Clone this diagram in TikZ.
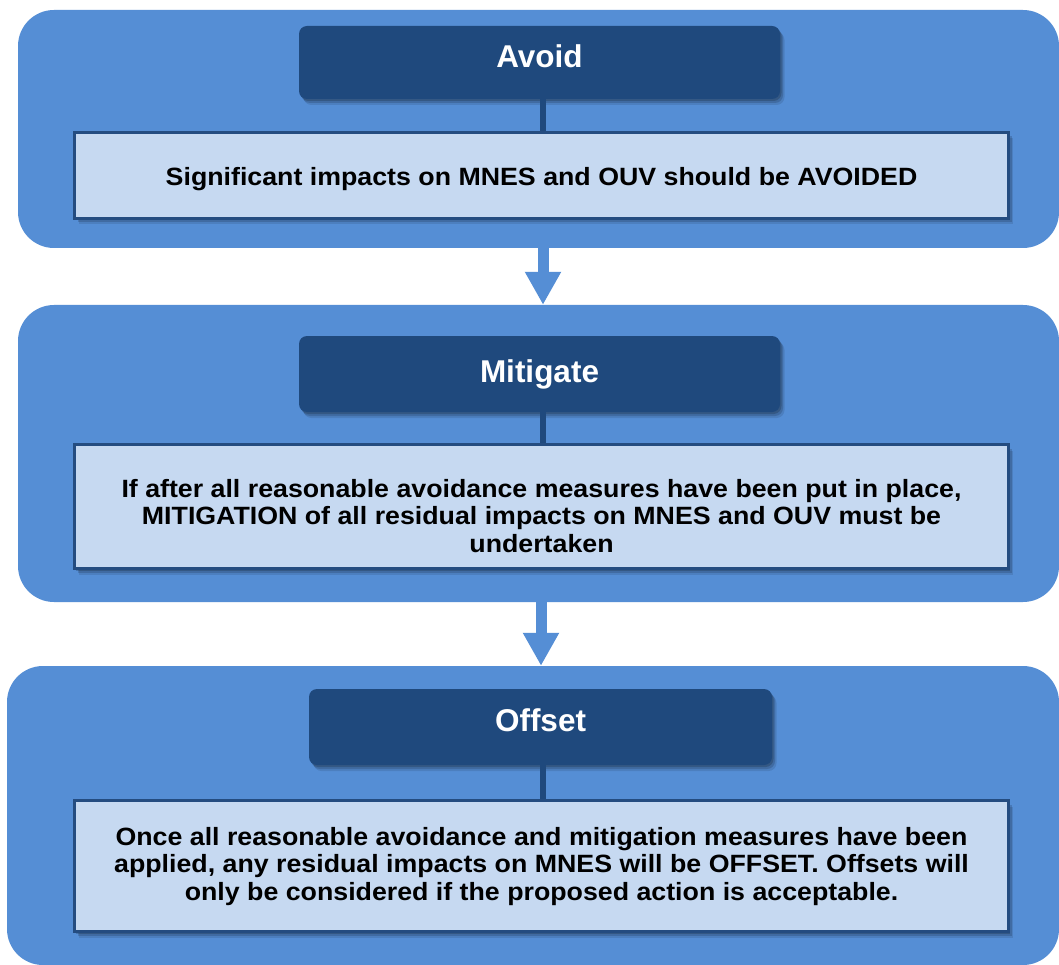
\documentclass[tikz,border=0pt]{standalone}
\usepackage{fontspec}
\setmainfont{Liberation Sans}
\newfontfamily\bodyfont{Liberation Sans}[FakeStretch=1.07]
\usetikzlibrary{shadows,arrows.meta}
\definecolor{panelblue}{RGB}{85,142,213}
\definecolor{headblue}{RGB}{31,73,125}
\definecolor{boxfill}{RGB}{198,217,241}
\definecolor{boxline}{RGB}{36,76,128}
\newcommand{\lowtext}[2]{\raisebox{-#1}[\height][\depth]{\begin{tabular}{@{}c@{}}#2\end{tabular}}}
\tikzset{
  softshadow/.style={
    drop shadow={shadow xshift=1.5pt, shadow yshift=-2pt, opacity=0.18, fill=black},
    drop shadow={shadow xshift=3pt, shadow yshift=-4pt, opacity=0.15, fill=black},
    drop shadow={shadow xshift=4.5pt, shadow yshift=-6pt, opacity=0.1, fill=black}},
  panel/.style={rectangle, rounded corners=36pt, fill=panelblue, draw=none, inner sep=0pt},
  header/.style={rectangle, rounded corners=8pt, fill=headblue, draw=none, text=white,
    font=\fontsize{31.5}{36}\selectfont\bfseries, inner sep=0pt, text height=22pt, text depth=14pt,
    softshadow},
  txtbox/.style={rectangle, fill=boxfill, draw=boxline, line width=3pt,
    font=\bodyfont\fontsize{25}{27.5}\selectfont\bfseries, inner sep=0pt,
    softshadow},
  conn/.style={draw=headblue, line width=6pt},
  bigarrow/.style={draw=panelblue, line width=11pt, -{Triangle[width=34pt,length=33pt]}, color=panelblue},
}
\begin{document}
\begin{tikzpicture}[x=1pt,y=-1pt]
\useasboundingbox (0,0) rectangle (1059,965);
\fill[white] (0,0) rectangle (1059,965);
% panels
\node[panel, minimum width=1041pt, minimum height=238pt] (p1) at (538.5,129) {};
\node[panel, minimum width=1041pt, minimum height=297pt] (p2) at (538.5,453.5) {};
\node[panel, minimum width=1052pt, minimum height=299pt] (p3) at (533,815.5) {};
% headers
\node[header, minimum width=481pt, minimum height=73pt, text depth=11pt] (h1) at (539.5,62.5) {Avoid};
\node[header, minimum width=481pt, minimum height=76pt, text depth=5pt] (h2) at (539.5,374) {Mitigate};
\node[header, minimum width=463pt, minimum height=76pt] (h3) at (540.5,727) {Offset};
% text boxes
\node[txtbox, minimum width=934pt, minimum height=86pt] (t1) at (541.5,175.5)
  {\lowtext{4.7pt}{Significant impacts on MNES and OUV should be AVOIDED}};
\node[txtbox, minimum width=934pt, minimum height=124pt] (t2) at (541.5,506.5)
  {\lowtext{12.6pt}{If after all reasonable avoidance measures have been put in place,\\
   MITIGATION of all residual impacts on MNES and OUV must be\\
   undertaken}};
\node[txtbox, minimum width=934pt, minimum height=131pt] (t3) at (541.5,866)
  {\lowtext{1.2pt}{Once all reasonable avoidance and mitigation measures have been\\
   applied, any residual impacts on MNES will be OFFSET. Offsets will\\
   only be considered if the proposed action is acceptable.}};
% connectors
\coordinate (c1) at (543,0);
\coordinate (c2) at (541,0);
\draw[conn] (h1.south -| c1) -- (t1.north -| c1);
\draw[conn] (h2.south -| c1) -- (t2.north -| c1);
\draw[conn] (h3.south -| c1) -- (t3.north -| c1);
% arrows
\draw[bigarrow] (p1.south -| c1) -- (p2.north -| c1);
\draw[bigarrow] (p2.south -| c2) -- (p3.north -| c2);
\end{tikzpicture}
\end{document}
